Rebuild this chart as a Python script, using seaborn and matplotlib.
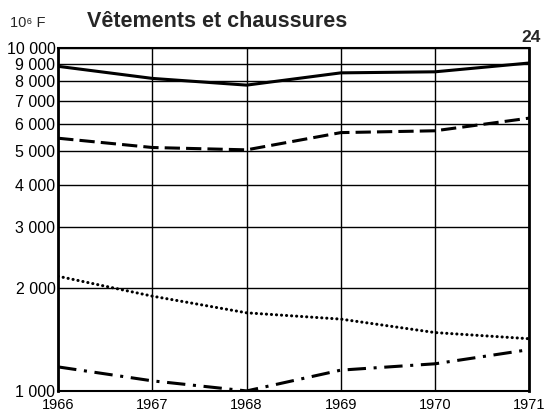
import seaborn as sns
import matplotlib.pyplot as plt
import pandas as pd
from matplotlib.ticker import FixedLocator, FuncFormatter, NullLocator

# data (10^6 F, log scale)
years = [1966, 1967, 1968, 1969, 1970, 1971]
solid = [8850, 8160, 7800, 8470, 8530, 9050]
dashed = [5460, 5130, 5050, 5670, 5740, 6250]
dotted = [2160, 1890, 1690, 1620, 1480, 1420]
dashdot = [1175, 1070, 1000, 1150, 1200, 1320]
yticks = [1000, 2000, 3000, 4000, 5000, 6000, 7000, 8000, 9000, 10000]

sns.set_style("white")
plt.rcParams['font.family'] = ['Liberation Sans', 'DejaVu Sans']

fig = plt.figure(figsize=(5.49, 4.15), dpi=100)
ax = fig.add_axes([0.106, 0.058, 0.858, 0.826])

series = [
    (solid, (0, ()), "butt"),
    (dashed, (0, (5, 2)), "butt"),
    (dotted, (0, (0.05, 1.6)), "round"),
    (dashdot, (0, (6, 2.5, 1, 2.5)), "butt"),
]
for vals, ls, cap in series:
    df = pd.DataFrame({"year": years, "val": vals})
    sns.lineplot(data=df, x="year", y="val", ax=ax, color="black",
                 linewidth=2.2, linestyle=ls, dash_capstyle=cap)

ax.set_yscale("log")
ax.set_ylim(1000, 10000)
ax.set_xlim(1966, 1971)
ax.yaxis.set_major_locator(FixedLocator(yticks))
ax.yaxis.set_minor_locator(NullLocator())
ax.yaxis.set_major_formatter(FuncFormatter(lambda v, p: f"{int(v):,}".replace(",", " ")))
ax.set_xticks(years)
ax.grid(True, color="black", linewidth=1)
ax.tick_params(axis="y", length=0, pad=2, labelsize=11.5, colors="black")
ax.tick_params(axis="x", length=0, pad=5, labelsize=10.5, colors="black")
ax.set_xlabel("")
ax.set_ylabel("")

for side in ["left", "right", "top", "bottom"]:
    ax.spines[side].set_color("black")
ax.spines["left"].set_linewidth(2)
ax.spines["right"].set_linewidth(2)
ax.spines["top"].set_linewidth(1.5)
ax.spines["bottom"].set_linewidth(1.5)

fig.text(0.018, 0.945, "10⁶ F", fontsize=10.5, va="center")
fig.text(0.158, 0.948, "Vêtements et chaussures", fontsize=15.5, fontweight="bold", va="center")
fig.text(0.985, 0.91, "24", fontsize=12.5, fontweight="bold", ha="right", va="center")

fig.savefig("out.png", dpi=100)
